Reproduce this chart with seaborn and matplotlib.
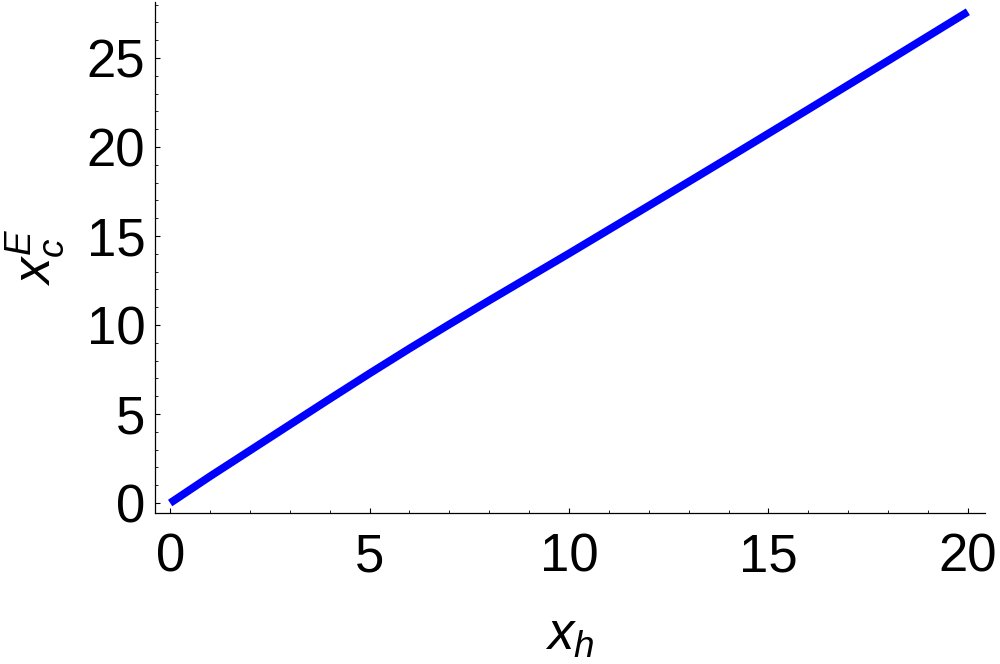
import numpy as np
import pandas as pd
import seaborn as sns
import matplotlib.pyplot as plt
from matplotlib.ticker import MultipleLocator

# values
x_h = [0, 1, 2, 3, 4, 5, 6, 7, 8, 9, 10, 12, 14, 16, 18, 20]
x_c_E = [0, 1.5, 2.95, 4.4, 5.85, 7.28, 8.68, 10.04, 11.38, 12.7, 14.02,
         16.7, 19.4, 22.12, 24.85, 27.6]

x_ticks = [0, 5, 10, 15, 20]
y_ticks = [0, 5, 10, 15, 20, 25]

sns.set_style('ticks')
plt.rcParams['font.family'] = ['Liberation Sans', 'DejaVu Sans']
plt.rcParams['mathtext.fontset'] = 'custom'
plt.rcParams['mathtext.it'] = 'Liberation Sans:italic'
plt.rcParams['mathtext.rm'] = 'Liberation Sans'
for key in ['text.color', 'axes.labelcolor', 'xtick.color', 'ytick.color', 'axes.edgecolor']:
    plt.rcParams[key] = 'black'

df = pd.DataFrame({'x_h': x_h, 'x_c_E': x_c_E})

fig = plt.figure(figsize=(10, 6.64), dpi=100)
ax = fig.add_axes([0.155, 0.2274, 0.83, 0.7696])

sns.lineplot(data=df, x='x_h', y='x_c_E', ax=ax, color='#0000ff',
             linewidth=5.6, solid_capstyle='butt')

ax.set_xlim(-0.38, 20.43)
ax.set_ylim(-0.56, 28.15)
ax.set_xticks(x_ticks)
ax.set_yticks(y_ticks)
ax.xaxis.set_minor_locator(MultipleLocator(1))
ax.yaxis.set_minor_locator(MultipleLocator(1))

for side in ['top', 'right']:
    ax.spines[side].set_visible(False)
for side in ['left', 'bottom']:
    ax.spines[side].set_linewidth(0.9)

ax.tick_params(which='major', direction='in', length=3.8, width=0.8, labelsize=38)
ax.tick_params(which='minor', direction='in', length=1.9, width=0.6)
ax.tick_params(axis='x', which='major', pad=14)
ax.tick_params(axis='y', which='major', pad=7)

ax.set_xlabel(r'$x_h$', fontsize=38, labelpad=20)
ax.set_ylabel(r'$x_c^E$', fontsize=38, labelpad=14)

fig.savefig('out.png', dpi=100)
